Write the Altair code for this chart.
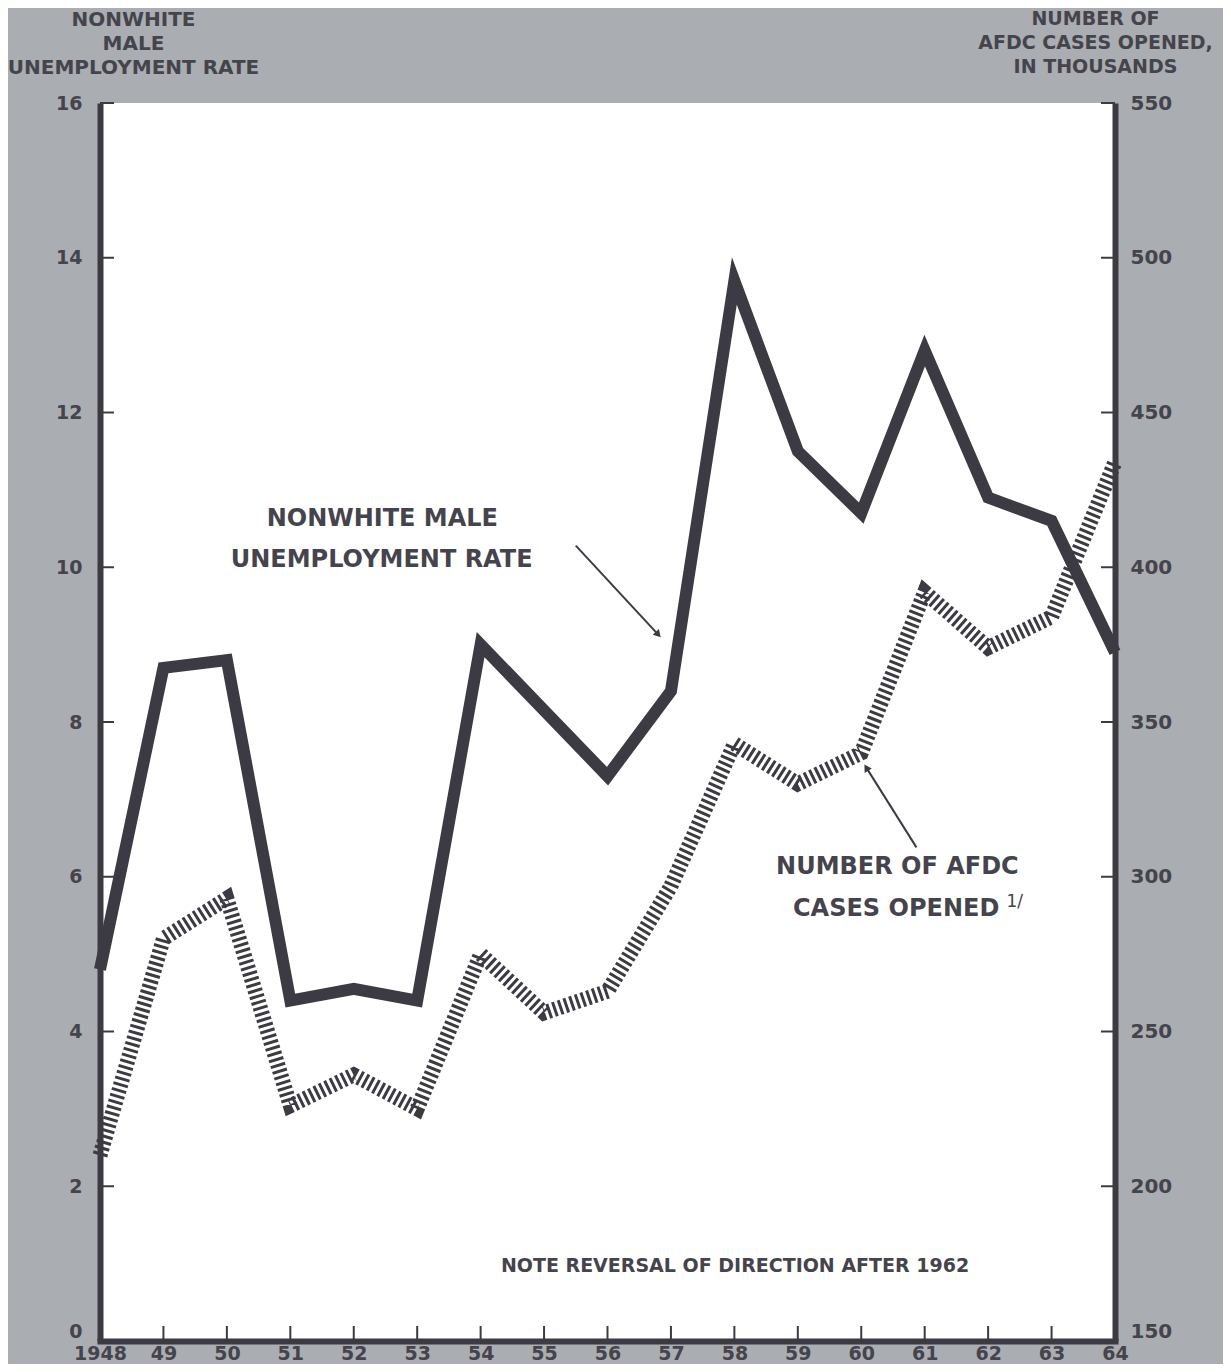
import altair as alt
import pandas as pd

# ---------------- data ----------------
years = list(range(1948, 1965))
unemployment_rate = [4.8, 8.7, 8.8, 4.4, 4.55, 4.4, 9.0, 8.15, 7.3, 8.4,
                     13.7, 11.5, 10.7, 12.8, 10.9, 10.6, 8.9]
afdc_cases = [210, 280, 293, 226, 236, 225, 275, 256, 263, 297,
              343, 330, 340, 392, 374, 384, 434]

left_ticks = [0, 2, 4, 6, 8, 10, 12, 14, 16]
right_ticks = [150, 200, 250, 300, 350, 400, 450, 500, 550]
inner_year_ticks = list(range(1949, 1964))

left_title = ["NONWHITE", "MALE", "UNEMPLOYMENT RATE"]
right_title = ["NUMBER OF", "AFDC CASES OPENED,", "IN THOUSANDS"]

# annotation texts (positions in data units of year / left scale)
ann_text = ["NONWHITE MALE", "UNEMPLOYMENT RATE", "NUMBER OF AFDC", "CASES OPENED"]
ann_year = [1952.45, 1952.44, 1960.57, 1960.55]
ann_rate = [10.62, 10.10, 6.12, 5.58]

note_text = ["NOTE REVERSAL OF DIRECTION AFTER 1962"]
note_year = [1958.01]
note_rate = [0.97]

foot_text = ["1/"]
foot_year = [1962.42]
foot_rate = [5.68]

# arrows: start and end (end carries the head)
arrow_id = ["a", "a", "b", "b"]
arrow_year = [1955.50, 1956.80, 1960.87, 1960.08]
arrow_rate = [10.28, 9.13, 6.38, 7.41]
head_year = [1956.80, 1960.08]
head_rate = [9.13, 7.41]
head_angle = [47, 238]

DARK = "#3c3b43"
TEXT = "#45444c"
BG = "#aaadb1"
FONT = "DejaVu Sans"

W, H = 1015, 1238

df = pd.DataFrame({"year": years, "rate": unemployment_rate, "afdc": afdc_cases})
df_lt = pd.DataFrame({"v": left_ticks})
df_xt = pd.DataFrame({"year": inner_year_ticks})
df_ann = pd.DataFrame({"t": ann_text, "year": ann_year, "rate": ann_rate})
df_note = pd.DataFrame({"t": note_text, "year": note_year, "rate": note_rate})
df_foot = pd.DataFrame({"t": foot_text, "year": foot_year, "rate": foot_rate})
df_arrow = pd.DataFrame({"id": arrow_id, "year": arrow_year, "rate": arrow_rate})
df_head = pd.DataFrame({"year": head_year, "rate": head_rate, "ang": head_angle})

xscale = alt.Scale(domain=[1948, 1964], nice=False, zero=False)
lscale = alt.Scale(domain=[0, 16], nice=False, zero=False)
rscale = alt.Scale(domain=[150, 550], nice=False, zero=False)

x_axis = alt.Axis(
    values=years, ticks=False, tickSize=0, grid=False,
    domainColor=DARK, domainWidth=6, domainCap="square",
    labelExpr="datum.value == 1948 ? '1948' : substring(toString(datum.value), 2)",
    labelFont=FONT, labelFontSize=19, labelFontWeight="bold", labelColor=TEXT,
    labelPadding=3, labelOverlap=False, labelBound=False, labelFlush=False,
    title=None,
)
left_axis = alt.Axis(
    values=left_ticks, ticks=False, tickSize=0, grid=False,
    domainColor=DARK, domainWidth=6,
    labelFont=FONT, labelFontSize=19, labelFontWeight="bold", labelColor=TEXT,
    labelPadding=18, labelOverlap=False, labelBound=False, labelFlush=False,
    labelBaseline={"condition": {"test": "datum.value == 0", "value": "bottom"},
                   "value": "middle"},
    title=left_title, titleAngle=0, titleAlign="center", titleBaseline="top",
    titleX=33, titleY=-94, titleLineHeight=24,
    titleFont=FONT, titleFontSize=20, titleFontWeight="bold", titleColor=TEXT,
)
right_axis = alt.Axis(
    orient="right", values=right_ticks, ticks=False, tickSize=0, grid=False,
    domainColor=DARK, domainWidth=6,
    labelFont=FONT, labelFontSize=20, labelFontWeight="bold", labelColor=TEXT,
    labelPadding=15, labelOverlap=False, labelBound=False, labelFlush=False,
    labelBaseline={"condition": {"test": "datum.value == 150", "value": "bottom"},
                   "value": "middle"},
    title=right_title, titleAngle=0, titleAlign="center", titleBaseline="top",
    titleX=-20, titleY=-94, titleLineHeight=24,
    titleFont=FONT, titleFontSize=19, titleFontWeight="bold", titleColor=TEXT,
)

Xa = lambda f="year": alt.X(f"{f}:Q", scale=xscale, axis=x_axis)
Yl = lambda f: alt.Y(f"{f}:Q", scale=lscale, axis=left_axis)

unemp_line = alt.Chart(df).mark_line(
    color=DARK, strokeWidth=12, strokeJoin="miter", strokeMiterLimit=10, strokeCap="butt"
).encode(x=Xa(), y=Yl("rate"))

left_ticks_l = alt.Chart(df_lt).mark_rule(color=DARK, strokeWidth=2).encode(
    y=Yl("v"), x=alt.value(0), x2=alt.value(14))
right_ticks_l = alt.Chart(df_lt).mark_rule(color=DARK, strokeWidth=2).encode(
    y=Yl("v"), x=alt.value(W - 14), x2=alt.value(W))
bottom_ticks = alt.Chart(df_xt).mark_rule(color=DARK, strokeWidth=2).encode(
    x=Xa(), y=alt.value(H), y2=alt.value(H - 15))

ann = alt.Chart(df_ann).mark_text(
    font=FONT, fontSize=24, fontWeight="bold", color=TEXT, baseline="middle", align="center"
).encode(x=Xa(), y=Yl("rate"), text="t:N")
note = alt.Chart(df_note).mark_text(
    font=FONT, fontSize=19, fontWeight="bold", color=TEXT, baseline="middle", align="center"
).encode(x=Xa(), y=Yl("rate"), text="t:N")
foot = alt.Chart(df_foot).mark_text(
    font=FONT, fontSize=17, color=TEXT, baseline="middle", align="center"
).encode(x=Xa(), y=Yl("rate"), text="t:N")

arrows = alt.Chart(df_arrow).mark_line(color=DARK, strokeWidth=2).encode(
    x=Xa(), y=Yl("rate"), detail="id:N", order=alt.Order("rate:Q"))
heads = alt.Chart(df_head).mark_point(
    shape="triangle-right", filled=True, color=DARK, size=70, opacity=1
).encode(x=Xa(), y=Yl("rate"), angle=alt.Angle("ang:Q", scale=None))

left_layer = alt.layer(unemp_line, left_ticks_l, right_ticks_l, bottom_ticks,
                       ann, note, foot, arrows, heads)

afdc_line = alt.Chart(df).mark_line(
    color=DARK, strokeWidth=15, strokeDash=[3, 3], strokeJoin="miter", strokeCap="butt"
).encode(x=Xa(), y=alt.Y("afdc:Q", scale=rscale, axis=right_axis))

chart = alt.layer(left_layer, afdc_line).resolve_scale(y="independent").properties(
    width=W, height=H,
    background=BG,
    padding={"left": 92, "top": 95, "right": 108, "bottom": 23},
    autosize=alt.AutoSizeParams(type="none"),
).configure_view(fill="white", strokeWidth=0)

chart.save("out.html", embed_options={"renderer": "svg", "actions": False})
